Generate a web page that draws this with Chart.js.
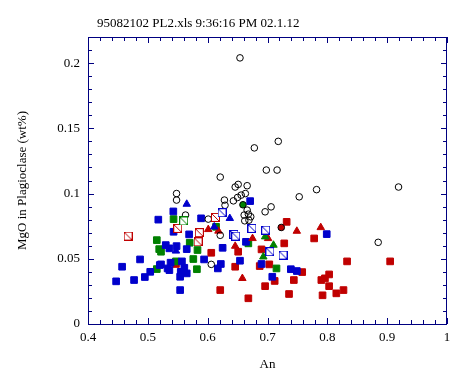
<!DOCTYPE html>
<html>
<head>
<meta charset="utf-8">
<script src="https://cdn.jsdelivr.net/npm/chart.js@4/dist/chart.umd.min.js"></script>
<style>
  html, body { margin: 0; padding: 0; background: #fff; }
  #wrap { width: 462px; height: 375px; }
</style>
</head>
<body>
<div id="wrap"><canvas id="chart" width="462" height="375"></canvas></div>
<script>
const chartTitle = "95082102 PL2.xls 9:36:16 PM 02.1.12";
const xTitle = "An";
const yTitle = "MgO in Plagioclase (wt%)";
const xTicks = [0.4, 0.5, 0.6, 0.7, 0.8, 0.9, 1];
const xTickLabels = ["0.4", "0.5", "0.6", "0.7", "0.8", "0.9", "1"];
const yTicks = [0, 0.05, 0.1, 0.15, 0.2];
const yTickLabels = ["0", "0.05", "0.1", "0.15", "0.2"];

// [An, MgO]
const openCircles = [
  [0.654, 0.204], [0.678, 0.135], [0.718, 0.140], [0.698, 0.118], [0.716, 0.118],
  [0.621, 0.1126], [0.919, 0.105], [0.885, 0.0626], [0.548, 0.100], [0.548, 0.095],
  [0.563, 0.0835], [0.601, 0.0804], [0.606, 0.0457], [0.646, 0.105], [0.651, 0.107],
  [0.666, 0.106], [0.782, 0.103], [0.753, 0.0975], [0.628, 0.095], [0.629, 0.091],
  [0.656, 0.0988], [0.663, 0.100], [0.650, 0.097], [0.643, 0.0944], [0.666, 0.0873],
  [0.668, 0.0842], [0.661, 0.0835], [0.672, 0.0822], [0.662, 0.0791], [0.669, 0.0796],
  [0.696, 0.086], [0.706, 0.0898], [0.621, 0.068]
];
const greenCircles = [[0.659, 0.0914]];
const redCircles = [[0.723, 0.074]];
const blueSquares = [
  [0.5426, 0.0863], [0.5175, 0.080], [0.589, 0.081], [0.543, 0.0707], [0.569, 0.0687],
  [0.530, 0.0605], [0.536, 0.058], [0.548, 0.0597], [0.565, 0.0574], [0.487, 0.0495],
  [0.457, 0.0439], [0.520, 0.0452], [0.538, 0.047], [0.557, 0.048], [0.504, 0.040],
  [0.495, 0.036], [0.477, 0.0337], [0.447, 0.0327], [0.522, 0.0457], [0.533, 0.0426],
  [0.536, 0.0413], [0.561, 0.0431], [0.555, 0.040], [0.565, 0.0388], [0.554, 0.0362],
  [0.554, 0.026], [0.594, 0.0495], [0.625, 0.0584], [0.617, 0.0426], [0.622, 0.046],
  [0.671, 0.0942], [0.654, 0.0485], [0.690, 0.046], [0.664, 0.063], [0.708, 0.0362],
  [0.739, 0.042], [0.749, 0.0406], [0.799, 0.0689]
];
const greenSquares = [
  [0.543, 0.0804], [0.515, 0.0643], [0.519, 0.0574], [0.522, 0.0554], [0.570, 0.0623],
  [0.583, 0.0567], [0.576, 0.0498], [0.582, 0.042], [0.547, 0.048], [0.515, 0.0421],
  [0.668, 0.0618], [0.715, 0.0426], [0.614, 0.0745]
];
const redSquares = [
  [0.606, 0.0546], [0.547, 0.046], [0.621, 0.026], [0.732, 0.0783], [0.728, 0.0618],
  [0.690, 0.0572], [0.651, 0.0554], [0.703, 0.0457], [0.687, 0.0444], [0.646, 0.0439],
  [0.744, 0.0337], [0.712, 0.033], [0.696, 0.029], [0.668, 0.0197], [0.736, 0.023],
  [0.758, 0.0398], [0.778, 0.0656], [0.833, 0.048], [0.905, 0.048], [0.803, 0.038],
  [0.796, 0.035], [0.790, 0.0337], [0.803, 0.029], [0.827, 0.026], [0.815, 0.0235],
  [0.792, 0.022]
];
const blueTriangles = [[0.565, 0.0919], [0.547, 0.056], [0.611, 0.0745], [0.637, 0.081]];
const redTriangles = [
  [0.601, 0.0725], [0.618, 0.0713], [0.646, 0.0597], [0.675, 0.0656], [0.701, 0.0656],
  [0.749, 0.0712], [0.789, 0.074], [0.658, 0.035]
];
const greenTriangles = [[0.696, 0.0669], [0.710, 0.0605], [0.693, 0.0515]];
const redBoxes = [[0.550, 0.0733], [0.586, 0.070], [0.584, 0.063], [0.613, 0.0817], [0.467, 0.0674]];
const blueBoxes = [
  [0.624, 0.0853], [0.644, 0.0687], [0.647, 0.0674], [0.674, 0.0733], [0.697, 0.072],
  [0.704, 0.0554], [0.726, 0.0528]
];
const greenBoxes = [[0.560, 0.079]];

const BLUE = "#0000cc";
const RED = "#c00000";
const GREEN = "#008000";
const AXIS = "#000080";
const FONT = "'Liberation Serif', 'Times New Roman', serif";

function pts(arr) {
  return arr.map(p => ({ x: p[0], y: p[1] }));
}

// open square with a diagonal stroke
function boxStyle(color) {
  const c = document.createElement("canvas");
  c.width = 9; c.height = 9;
  const g = c.getContext("2d");
  g.fillStyle = "#fff";
  g.fillRect(0, 0, 9, 9);
  g.strokeStyle = color;
  g.lineWidth = 1;
  g.strokeRect(0.5, 0.5, 8, 8);
  g.beginPath();
  g.moveTo(1, 1);
  g.lineTo(8, 8);
  g.stroke();
  return c;
}

function ds(data, style, fill, border, radius) {
  return {
    data: pts(data),
    pointStyle: style,
    backgroundColor: fill,
    borderColor: border,
    pointRadius: radius,
    pointBorderWidth: 1,
    showLine: false
  };
}

const frame = {
  id: "frame",
  afterDraw(chart) {
    const { ctx, chartArea: a, scales } = chart;
    ctx.save();
    ctx.strokeStyle = AXIS;
    ctx.lineWidth = 1;
    ctx.strokeRect(a.left + 0.5, a.top + 0.5, a.right - a.left - 1, a.bottom - a.top);
    ctx.beginPath();
    for (let i = 0; i <= 30; i++) {
      const x = Math.round(scales.x.getPixelForValue(0.4 + i * 0.02)) + 0.5;
      const len = i % 5 === 0 ? 6 : 4;
      ctx.moveTo(x, a.bottom); ctx.lineTo(x, a.bottom - len);
      ctx.moveTo(x, a.top); ctx.lineTo(x, a.top + len);
    }
    for (let i = 0; i <= 22; i++) {
      const y = Math.round(scales.y.getPixelForValue(i * 0.01)) + 0.5;
      const len = i % 5 === 0 ? 6 : 4;
      ctx.moveTo(a.left, y); ctx.lineTo(a.left + len, y);
      ctx.moveTo(a.right, y); ctx.lineTo(a.right - len, y);
    }
    ctx.stroke();
    ctx.fillStyle = "#000";
    ctx.font = "13px " + FONT;
    ctx.textAlign = "left";
    ctx.textBaseline = "alphabetic";
    ctx.fillText(chartTitle, 97, 27);
    ctx.restore();
  }
};

new Chart(document.getElementById("chart"), {
  type: "scatter",
  data: {
    datasets: [
      ds(greenBoxes, boxStyle(GREEN), "#fff", GREEN, 4.5),
      ds(blueBoxes, boxStyle(BLUE), "#fff", BLUE, 4.5),
      ds(redBoxes, boxStyle(RED), "#fff", RED, 4.5),
      ds(openCircles, "circle", "rgba(255,255,255,0)", "#000", 3.3),
      ds(greenCircles, "circle", GREEN, "#000", 3.3),
      ds(redCircles, "circle", RED, "#000", 3.3),
      ds(blueTriangles, "triangle", BLUE, BLUE, 4.3),
      ds(greenTriangles, "triangle", GREEN, GREEN, 4.3),
      ds(redTriangles, "triangle", RED, RED, 4.3),
      ds(blueSquares, "rect", BLUE, BLUE, 4.7),
      ds(greenSquares, "rect", GREEN, GREEN, 4.7),
      ds(redSquares, "rect", RED, RED, 4.7)
    ]
  },
  options: {
    responsive: false,
    animation: false,
    devicePixelRatio: 1,
    layout: { padding: { left: 0, right: 15, top: 37, bottom: 0 } },
    plugins: { legend: { display: false }, tooltip: { enabled: false } },
    scales: {
      x: {
        type: "linear",
        min: 0.4, max: 1,
        grid: { display: false, drawTicks: false },
        border: { display: false },
        afterBuildTicks: s => { s.ticks = xTicks.map(v => ({ value: v })); },
        afterFit: s => { s.height = 51; },
        ticks: {
          color: "#000", padding: 6,
          font: { family: FONT, size: 13 },
          maxRotation: 0,
          callback: (v, i) => xTickLabels[i]
        },
        title: {
          display: true, text: xTitle, color: "#000",
          font: { family: FONT, size: 13 },
          padding: { top: 0, bottom: 3 }
        }
      },
      y: {
        type: "linear",
        min: 0, max: 0.22,
        grid: { display: false, drawTicks: false },
        border: { display: false },
        afterBuildTicks: s => { s.ticks = yTicks.map(v => ({ value: v })); },
        afterFit: s => { s.width = 88; },
        ticks: {
          color: "#000", padding: 8,
          font: { family: FONT, size: 13 },
          callback: (v, i) => yTickLabels[i]
        },
        title: {
          display: true, text: yTitle, color: "#000",
          font: { family: FONT, size: 13 },
          padding: { top: 15, bottom: 0 }
        }
      }
    }
  },
  plugins: [frame]
});
</script>
</body>
</html>
